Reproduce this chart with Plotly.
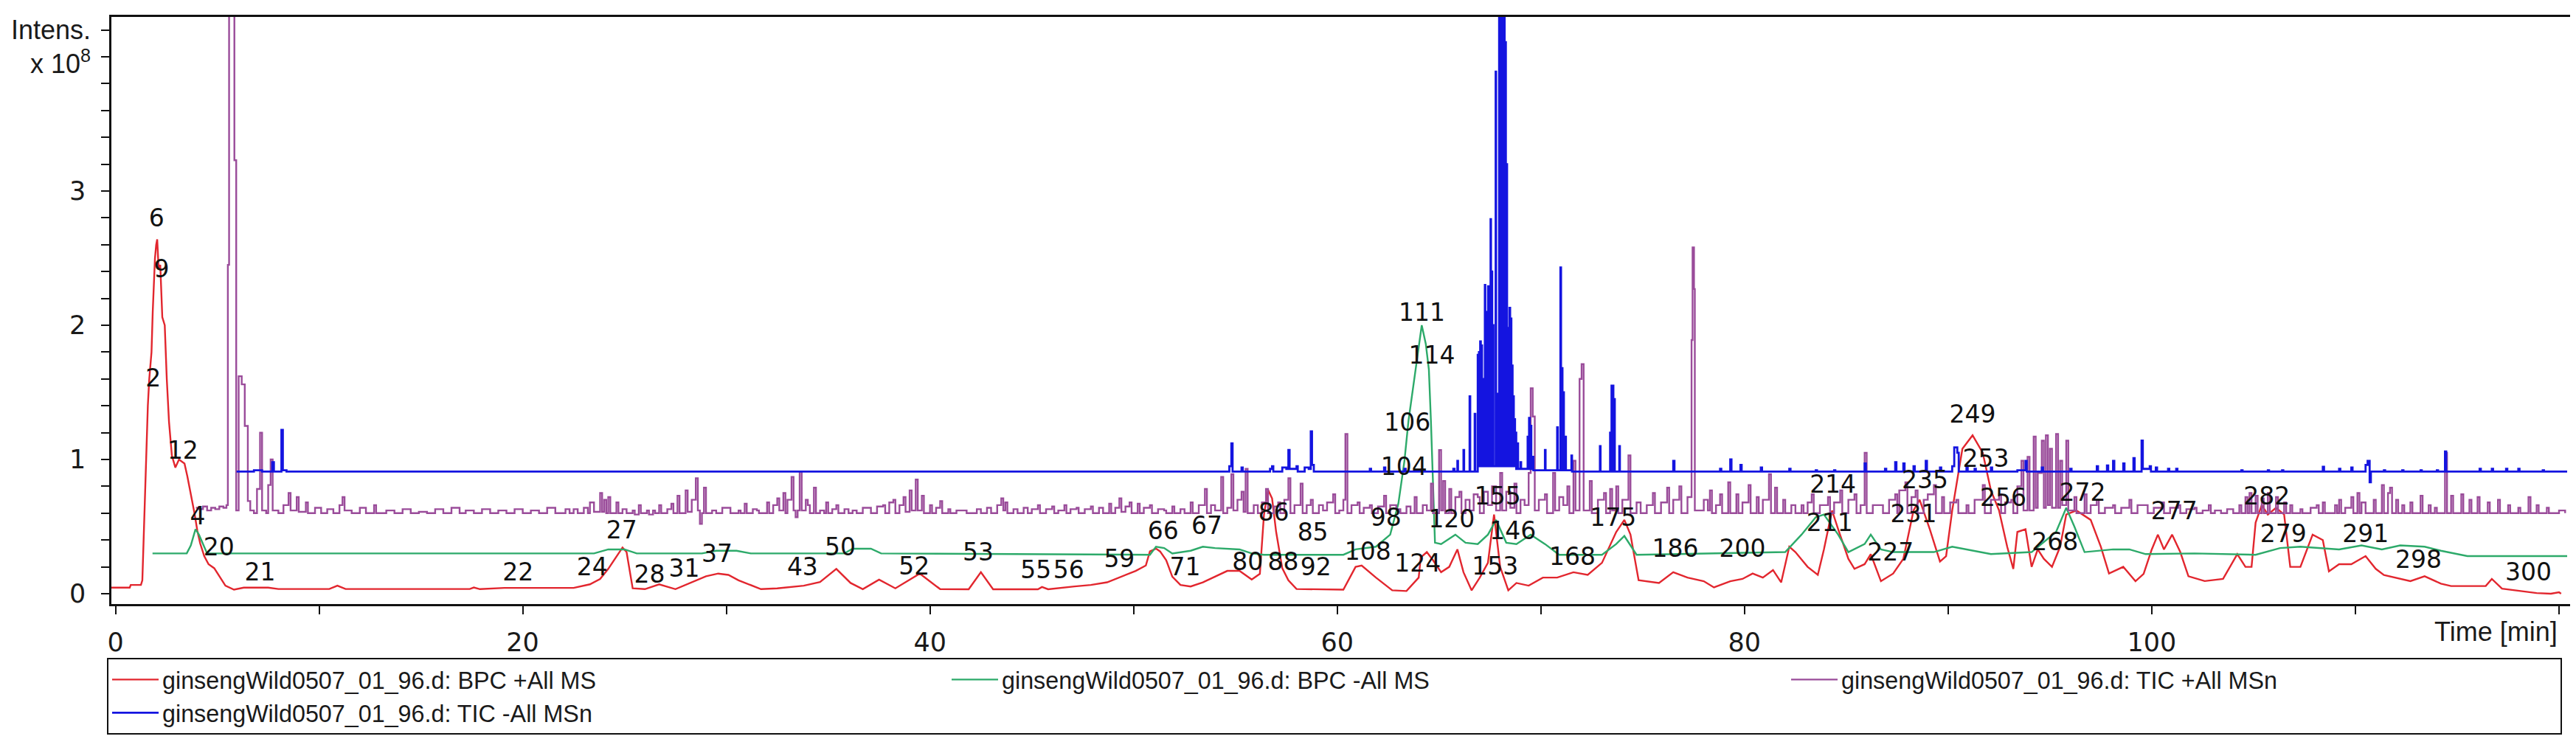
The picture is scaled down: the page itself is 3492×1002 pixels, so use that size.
import plotly.graph_objects as go

# ---------------- data (time [min], intensity [x1e8]) ----------------
BPC_POS = [(-0.2,.045),(0.7,.045),(0.75,.065),(1.25,.065),(1.32,.1),(1.41,.56),(1.52,1.0),(1.59,1.4),(1.66,1.6),
 (1.77,1.8),(1.83,2.1),(1.94,2.5),(2.0,2.6),(2.05,2.64),(2.12,2.42),(2.2,2.45),(2.3,2.06),(2.42,2.0),(2.52,1.6),
 (2.63,1.28),(2.77,1.03),(2.94,.94),(3.12,1.0),(3.39,.97),(3.53,.875),(3.74,.72),(3.88,.6),(4.02,.47),(4.16,.375),
 (4.36,.28),(4.57,.22),(4.85,.19),(5.12,.125),(5.4,.06),(5.82,.03),(6.3,.045),(7.5,.045),(8.0,.035),(10.5,.035),
 (10.9,.06),(11.3,.035),(17.4,.035),(17.6,.046),(17.9,.034),(19.1,.043),(22.5,.043),(23.3,.07),(23.8,.11),(24.2,.185),
 (24.9,.344),(25.1,.31),(25.4,.04),(26.0,.034),(26.7,.07),(27.5,.034),(28.3,.087),(29.0,.13),(29.6,.15),(30.1,.14),
 (30.6,.1),(31.7,.034),(32.5,.04),(33.8,.06),(34.6,.087),(35.4,.185),(36.1,.08),(36.7,.034),(37.5,.105),(38.3,.04),
 (39.5,.15),(40.5,.034),(41.9,.033),(42.5,.16),(43.1,.033),(45.3,.033),(45.5,.05),(45.8,.033),(47.1,.054),(47.9,.065),
 (48.7,.085),(49.4,.127),(50.1,.17),(50.6,.21),(50.8,.315),(51.1,.336),(51.3,.315),(51.6,.25),(51.9,.127),(52.3,.065),
 (52.8,.054),(53.4,.085),(54.0,.127),(54.6,.17),(55.2,.17),(55.8,.106),(56.2,.148),(56.4,.586),(56.6,.774),(56.8,.71),
 (57.0,.46),(57.3,.19),(57.6,.1),(58.0,.035),(60.3,.03),(60.9,.2),(61.2,.21),(61.9,.12),(62.7,.025),(63.4,.02),
 (64.0,.12),(64.1,.27),(64.4,.31),(64.7,.25),(65.1,.16),(65.5,.2),(65.9,.33),(66.2,.16),(66.6,.025),(67.0,.12),
 (67.4,.23),(67.7,.59),(68.0,.2),(68.4,.025),(68.8,.08),(69.4,.06),(70.1,.12),(70.8,.12),(71.6,.16),(72.3,.14),
 (73.0,.23),(73.7,.46),(74.1,.55),(74.4,.44),(74.8,.1),(75.8,.08),(76.5,.16),(77.2,.12),(78.0,.093),(78.5,.047),
 (79.3,.093),(79.9,.11),(80.4,.15),(80.9,.12),(81.4,.176),(81.8,.084),(82.2,.35),(82.5,.31),(83.1,.2),(83.6,.14),
 (83.9,.33),(84.3,.62),(84.6,.48),(85.1,.26),(85.4,.185),(85.9,.22),(86.2,.295),(86.7,.093),(87.3,.15),(87.8,.26),
 (88.3,.62),(88.6,.70),(89.1,.48),(89.6,.24),(89.9,.28),(90.2,.62),(90.7,1.08),(91.2,1.18),(91.7,1.05),(92.1,.77),
 (92.5,.62),(92.9,.35),(93.2,.185),(93.4,.46),(93.8,.48),(94.1,.2),(94.4,.33),(94.7,.26),(95.1,.2),(95.5,.35),
 (95.8,.59),(96.3,.62),(97.0,.55),(97.5,.35),(97.9,.15),(98.6,.2),(99.2,.093),(99.6,.148),(100.0,.33),(100.3,.44),
 (100.6,.33),(101.0,.44),(101.4,.31),(101.8,.13),(102.6,.094),(103.5,.11),(104.2,.295),(104.6,.2),(104.9,.2),
 (105.1,.53),(105.4,.66),(105.7,.59),(106.1,.64),(106.5,.59),(106.8,.2),(107.3,.2),(107.9,.44),(108.4,.4),
 (108.7,.166),(109.2,.22),(109.8,.22),(110.5,.28),(111.0,.185),(111.4,.139),(112.7,.094),(113.4,.13),(114.2,.075),
 (114.7,.057),(116.4,.057),(116.7,.11),(117.2,.038),(118.2,.02),(118.9,.005),(119.6,0.0),(120.0,.011),(120.1,0.0)]

BPC_NEG = [(1.82,.3),(3.5,.3),(3.7,.36),(3.93,.48),(4.1,.44),(4.5,.3),(23.5,.3),(24.2,.33),(25.0,.33),(25.6,.3),
 (28.8,.3),(29.5,.32),(30.5,.32),(31.2,.3),(35.8,.3),(36.2,.335),(37.1,.335),(37.6,.3),(50.8,.29),(51.1,.35),
 (51.5,.34),(51.9,.3),(52.8,.32),(53.4,.35),(54.0,.34),(55.2,.33),(55.8,.3),(56.4,.29),(60.3,.29),(60.9,.33),
 (61.9,.35),(62.6,.44),(63.0,.67),(63.3,.99),(63.5,1.29),(63.8,1.63),(64.0,1.84),(64.15,2.0),(64.35,1.86),
 (64.5,1.67),(64.6,1.29),(64.7,.82),(64.8,.38),(65.1,.37),(65.8,.44),(66.3,.38),(66.9,.37),(67.4,.44),(67.8,.55),
 (68.3,.38),(68.8,.37),(69.5,.44),(70.2,.37),(70.9,.29),(73.0,.29),(73.7,.37),(74.1,.43),(74.7,.29),(82.0,.31),
 (82.8,.44),(83.5,.57),(83.9,.59),(84.6,.44),(85.1,.31),(85.9,.37),(86.2,.44),(86.7,.33),(87.3,.31),(89.3,.31),
 (90.2,.35),(90.9,.33),(92.1,.295),(94.1,.31),(95.3,.46),(95.8,.64),(96.2,.5),(96.7,.31),(98.1,.33),(98.9,.33),
 (99.7,.295),(102.1,.3),(105.1,.29),(106.3,.34),(107.3,.35),(109.2,.33),(110.3,.36),(111.3,.33),(112.2,.36),
 (113.4,.35),(114.2,.32),(115.5,.28),(120.4,.28)]

TIC_POS = [(3.95,.64),(4.1,.63),(4.3,.65),(4.5,.62),(4.7,.64),(4.9,.63),(5.1,.65),(5.3,.64),(5.45,.66),(5.52,2.45),
 (5.58,5.0),(5.84,3.23),(5.93,.62),(6.05,1.62),(6.2,1.56),(6.35,1.25),(6.5,.69),(6.62,.62),(6.8,.6),(6.95,.78),
 (7.1,1.2),(7.2,.62),(7.4,.6),(7.5,.81),(7.62,1.0),(7.72,.62),(8.0,.6),(8.25,.66),(8.5,.75),(8.6,.62),(8.9,.72),
 (9.0,.61),(9.35,.68),(9.45,.6),(9.8,.64),(10.1,.6),(10.4,.63),(10.7,.6),(11.0,.66),(11.15,.72),(11.25,.62),(11.6,.6),
 (12.0,.64),(12.3,.6),(12.7,.66),(12.8,.6),(13.3,.62),(13.7,.6),(14.1,.63),(14.5,.6),(14.9,.61),(15.3,.6),(15.7,.63),
 (16.1,.6),(16.5,.64),(16.9,.6),(17.2,.62),(17.6,.6),(18.0,.63),(18.4,.6),(18.8,.62),(19.2,.6),(19.6,.63),(20.0,.6),
 (20.4,.62),(20.8,.6),(21.2,.64),(21.6,.6),(22.1,.63),(22.3,.6),(22.5,.63),(22.7,.6),(23.0,.64),(23.2,.6),(23.3,.68),
 (23.5,.61),(23.8,.75),(23.9,.61),(24.0,.70),(24.1,.6),(24.2,.72),(24.3,.6),(24.6,.68),(24.7,.6),(24.9,.63),(25.1,.6),
 (25.4,.62),(25.5,.59),(25.7,.66),(25.8,.6),(26.1,.62),(26.2,.59),(26.4,.62),(26.5,.6),(26.7,.66),(26.8,.6),(27.1,.63),
 (27.3,.67),(27.4,.6),(27.6,.73),(27.7,.6),(28.0,.77),(28.1,.61),(28.3,.7),(28.5,.86),(28.6,.62),(28.7,.52),(28.8,.6),
 (28.9,.79),(29.0,.6),(29.3,.62),(29.5,.6),(29.8,.64),(30.1,.64),(30.2,.6),(30.6,.62),(30.7,.6),(30.9,.67),(31.0,.6),
 (31.3,.63),(31.5,.62),(31.6,.6),(32.0,.68),(32.1,.6),(32.3,.66),(32.5,.71),(32.6,.62),(32.8,.75),(32.9,.6),(33.0,.7),
 (33.2,.87),(33.3,.62),(33.4,.57),(33.5,.62),(33.6,.91),(33.7,.62),(33.9,.7),(34.0,.66),(34.1,.6),(34.3,.79),(34.4,.6),
 (34.6,.62),(34.8,.6),(34.9,.68),(35.0,.6),(35.2,.63),(35.4,.66),(35.5,.6),(35.8,.63),(36.0,.6),(36.2,.62),(36.4,.6),
 (36.7,.64),(37.0,.64),(37.1,.6),(37.4,.65),(37.7,.66),(37.8,.6),(38.0,.68),(38.2,.7),(38.3,.6),(38.5,.66),(38.7,.72),
 (38.8,.61),(39.0,.77),(39.1,.62),(39.3,.85),(39.4,.62),(39.6,.73),(39.7,.6),(40.0,.66),(40.1,.6),(40.3,.64),(40.5,.69),
 (40.6,.6),(40.9,.63),(41.0,.6),(41.3,.62),(41.7,.62),(41.8,.6),(42.0,.6),(42.3,.63),(42.5,.6),(42.8,.64),(43.0,.6),
 (43.3,.66),(43.5,.71),(43.6,.62),(43.7,.68),(43.8,.6),(44.1,.63),(44.3,.6),(44.6,.64),(44.8,.6),(45.0,.63),(45.3,.66),
 (45.4,.6),(45.7,.63),(46.0,.65),(46.1,.6),(46.3,.62),(46.6,.66),(46.7,.6),(46.9,.63),(47.2,.64),(47.3,.6),(47.6,.63),
 (47.9,.65),(48.0,.6),(48.3,.64),(48.5,.6),(48.8,.67),(48.9,.6),(49.1,.64),(49.3,.71),(49.4,.61),(49.6,.65),(49.8,.68),
 (49.9,.6),(50.2,.67),(50.3,.6),(50.5,.64),(50.8,.66),(50.9,.6),(51.2,.63),(51.5,.62),(51.6,.6),(51.9,.65),(52.0,.6),
 (52.3,.63),(52.5,.6),(52.8,.68),(52.9,.6),(53.2,.66),(53.5,.78),(53.6,.6),(53.8,.66),(54.0,.62),(54.3,.87),(54.4,.6),
 (54.6,.64),(54.8,.89),(54.9,.62),(55.1,.7),(55.3,.76),(55.4,.61),(55.5,.93),(55.6,.6),(55.9,.66),(56.1,.6),(56.3,.68),
 (56.5,.78),(56.6,.6),(56.9,.65),(57.1,.68),(57.2,.6),(57.4,.7),(57.6,.86),(57.7,.6),(57.9,.66),(58.2,.82),(58.3,.6),
 (58.5,.66),(58.7,.7),(58.8,.6),(59.1,.66),(59.3,.62),(59.5,.68),(59.8,.74),(59.9,.6),(60.1,.62),(60.3,.7),(60.4,1.19),
 (60.5,.6),(60.7,.66),(61.0,.68),(61.1,.6),(61.3,.64),(61.6,.66),(61.7,.6),(62.0,.65),(62.3,.73),(62.4,.6),(62.6,.66),
 (62.9,.63),(63.1,.6),(63.4,.65),(63.6,.6),(63.8,.72),(63.9,.6),(64.2,.66),(64.4,.62),(64.6,.82),(64.7,.6),(65.0,1.07),
 (65.1,.62),(65.2,.84),(65.3,.6),(65.5,.78),(65.6,.6),(65.8,.72),(66.0,.76),(66.1,.6),(66.3,.7),(66.5,.62),(66.7,.74),
 (66.9,.72),(67.0,.6),(67.2,.76),(67.4,.66),(67.6,.8),(67.8,.62),(68.0,.9),(68.1,.62),(68.3,.76),(68.5,.64),(68.7,.82),
 (68.8,.6),(69.0,.7),(69.2,.66),(69.4,.9),(69.5,1.53),(69.6,1.32),(69.7,.62),(69.9,.7),(70.2,.74),(70.3,.6),(70.6,.9),
 (70.7,.62),(70.9,.72),(71.1,.66),(71.3,.8),(71.4,.6),(71.6,.99),(71.7,.62),(71.9,1.6),(72.0,1.71),(72.1,.62),(72.4,.84),
 (72.5,.6),(72.8,.7),(73.1,.75),(73.2,.6),(73.4,.78),(73.5,.62),(73.7,.8),(73.8,.6),(74.0,.7),(74.3,1.03),(74.4,.6),
 (74.7,.68),(74.9,.6),(75.2,.66),(75.5,.75),(75.6,.6),(75.9,.68),(76.2,.79),(76.3,.6),(76.5,.7),(76.8,.8),(76.9,.6),
 (77.2,.72),(77.4,1.89),(77.45,2.58),(77.52,2.27),(77.56,.62),(78.0,.7),(78.2,.62),(78.3,.77),(78.4,.6),(78.6,.66),
 (78.8,.74),(78.9,.6),(79.2,.83),(79.3,.6),(79.6,.74),(79.7,.6),(79.9,.68),(80.2,.81),(80.3,.6),(80.6,.72),(80.7,.6),
 (80.9,.7),(81.2,.89),(81.3,.6),(81.5,.79),(81.6,.6),(81.9,.7),(82.0,.6),(82.3,.66),(82.5,.6),(82.8,.66),(82.9,.6),
 (83.1,.68),(83.3,.74),(83.4,.6),(83.7,.66),(84.1,.72),(84.2,.6),(84.4,.68),(84.7,.77),(84.8,.6),(85.1,.7),(85.4,.74),
 (85.5,.6),(85.7,.66),(85.9,1.05),(86.0,.6),(86.3,.66),(86.7,.66),(86.8,.6),(87.1,.7),(87.4,.74),(87.5,.6),(87.6,.77),
 (87.9,.83),(88.0,.6),(88.2,.72),(88.4,.77),(88.5,.6),(88.8,.7),(89.0,.74),(89.3,.81),(89.4,.6),(89.7,.72),(89.8,.6),
 (90.1,.68),(90.4,.7),(90.5,.6),(90.9,.66),(91.0,.6),(91.3,.7),(91.7,.81),(91.8,.6),(92.1,.7),(92.5,.74),(92.6,.6),
 (92.8,.68),(93.1,.7),(93.2,.6),(93.4,.8),(93.6,.99),(93.7,.62),(93.9,1.02),(94.0,.62),(94.2,1.17),(94.3,.64),(94.4,.9),
 (94.6,1.14),(94.7,.64),(94.8,1.18),(94.9,.66),(95.0,1.08),(95.1,.64),(95.3,1.19),(95.4,.64),(95.5,.99),(95.6,.66),
 (95.8,1.14),(95.9,.62),(96.2,.72),(96.3,.6),(96.7,.74),(96.8,.6),(97.0,.66),(97.3,.7),(97.4,.6),(97.7,.64),(98.1,.66),
 (98.2,.6),(98.5,.64),(98.9,.7),(99.0,.6),(99.3,.66),(99.7,.66),(99.8,.6),(100.1,.64),(100.5,.68),(100.6,.6),(100.9,.64),
 (101.3,.66),(101.4,.6),(101.7,.63),(102.1,.64),(102.2,.6),(102.5,.62),(102.8,.66),(102.9,.6),(103.1,.62),(103.4,.6),
 (103.7,.63),(104.0,.6),(104.3,.66),(104.4,.6),(104.6,.72),(104.7,.6),(104.8,.75),(104.9,.6),(105.1,.73),(105.2,.6),
 (105.4,.71),(105.5,.6),(105.7,.75),(105.8,.6),(106.1,.72),(106.2,.6),(106.5,.68),(106.6,.6),(106.8,.66),(106.9,.6),
 (107.3,.63),(107.4,.6),(107.8,.64),(108.1,.66),(108.2,.6),(108.4,.68),(108.5,.6),(109.0,.66),(109.1,.6),(109.2,.7),
 (109.3,.6),(109.5,.64),(109.8,.72),(109.9,.6),(110.1,.75),(110.2,.6),(110.3,.68),(110.5,.6),(110.9,.7),(111.0,.6),
 (111.3,.81),(111.4,.6),(111.6,.75),(111.7,.79),(111.8,.6),(112.0,.7),(112.1,.6),(112.3,.66),(112.4,.6),(112.7,.68),
 (112.8,.6),(113.2,.73),(113.3,.6),(113.6,.66),(113.7,.6),(113.9,.64),(114.0,.6),(114.4,1.05),(114.5,.6),(114.7,.73),
 (114.8,.6),(115.2,.74),(115.3,.6),(115.6,.7),(115.7,.6),(116.0,.72),(116.1,.6),(116.5,.68),(116.6,.6),(117.0,.7),
 (117.1,.6),(117.5,.66),(117.6,.6),(118.0,.64),(118.1,.6),(118.5,.72),(118.6,.6),(118.9,.66),(119.0,.6),(119.4,.64),
 (119.5,.6),(120.0,.62),(120.3,.6)]

TIC_NEG = [(5.95,.91),(6.3,.91),(6.8,.92),(7.2,.91),(7.7,.98),(7.78,.91),(8.15,1.22),(8.22,.92),(8.4,.91),(30.0,.91),
 (54.5,.91),(54.7,.95),(54.8,1.12),(54.86,.91),(55.3,.94),(55.36,.91),(56.7,.93),(56.8,.95),(56.86,.91),(57.3,.94),
 (57.5,.93),(57.6,1.07),(57.66,.93),(58.0,.95),(58.06,.91),(58.4,.94),(58.6,.93),(58.7,1.21),(58.76,.96),(58.85,.91),
 (60.9,.91),(61.6,.93),(61.66,.91),(62.3,.94),(62.36,.91),(63.3,.93),(63.36,.91),(65.5,.91),(65.7,.93),(65.76,.91),
 (65.9,.99),(65.93,.91),(66.2,1.07),(66.23,.91),(66.5,1.47),(66.53,.91),(66.75,1.34),(66.78,.91),
 (66.90,1.78),(66.93,.95),(66.96,1.8),(66.99,.95),(67.02,1.88),(67.05,.95),(67.08,1.85),(67.11,.95),(67.14,1.6),
 (67.17,.95),(67.25,2.30),(67.27,.95),(67.35,2.1),(67.38,.95),(67.41,2.29),(67.44,.95),(67.47,2.25),(67.50,.95),
 (67.53,2.79),(67.55,.95),(67.58,2.4),(67.61,.95),(67.64,2.0),(67.67,.95),(67.78,3.89),(67.80,.95),(67.86,1.49),
 (67.89,.95),(67.95,4.6),(67.98,.95),(68.01,4.6),(68.04,.95),(68.07,4.6),(68.10,.95),(68.13,4.6),(68.16,.95),
 (68.19,4.6),(68.22,.95),(68.25,4.11),(68.28,.95),(68.31,3.2),(68.34,.95),(68.40,1.98),(68.43,.95),(68.46,2.13),
 (68.49,.95),(68.52,2.05),(68.55,.95),(68.58,1.7),(68.61,.95),(68.64,1.47),(68.67,.95),(68.70,1.3),(68.73,.95),
 (68.76,1.2),(68.79,.93),(68.85,1.12),(68.88,.93),(69.0,.98),(69.03,.93),(69.35,1.17),(69.38,.93),(69.42,1.31),
 (69.45,.93),(69.5,1.25),(69.53,.93),(69.6,1.02),(69.63,.92),(70.2,1.07),(70.23,.92),(70.8,1.24),(70.83,.92),
 (70.96,2.43),(70.99,.92),(71.03,1.68),(71.06,.92),(71.1,1.5),(71.13,.92),(71.2,1.17),(71.23,.92),(71.5,1.03),
 (71.53,.91),(72.9,1.1),(72.93,.91),(73.4,1.2),(73.43,.91),(73.47,1.55),(73.5,.91),(73.53,1.55),(73.56,.91),
 (73.6,1.45),(73.63,.91),(73.85,1.1),(73.88,.91),(76.4,.91),(76.5,.99),(76.56,.91),(78.8,.93),(78.86,.91),
 (79.3,1.0),(79.36,.91),(79.8,.96),(79.86,.91),(80.8,.94),(80.86,.91),(82.2,.93),(82.26,.91),(83.5,.92),(83.56,.91),
 (84.4,.92),(84.46,.91),(85.9,.97),(85.96,.91),(86.9,.93),(86.96,.91),(87.4,.98),(87.46,.91),(87.8,.97),(87.86,.91),
 (88.3,.95),(88.36,.91),(88.9,.99),(88.96,.91),(89.6,.94),(89.66,.91),(90.2,.95),(90.3,1.09),(90.45,1.05),(90.52,.91),
 (90.9,.94),(90.96,.91),(91.3,.93),(91.36,.91),(92.1,.94),(92.16,.91),(93.4,.92),(93.8,.99),(93.86,.91),(94.6,.94),
 (94.66,.91),(96.0,.93),(96.06,.91),(97.3,.95),(97.36,.91),(97.8,.955),(97.86,.91),(98.1,.99),(98.16,.91),(98.6,.97),
 (98.66,.91),(99.1,1.01),(99.16,.91),(99.5,1.14),(99.56,.93),(99.9,.95),(99.96,.91),(100.2,.94),(100.26,.91),
 (100.8,.93),(100.86,.91),(101.2,.93),(101.26,.91),(104.4,.92),(104.46,.91),(105.7,.92),(105.76,.91),(106.4,.92),
 (106.46,.91),(108.4,.945),(108.46,.91),(109.2,.93),(109.26,.91),(109.8,.94),(109.86,.91),(110.5,.96),(110.6,.99),
 (110.7,.83),(110.76,.91),(111.4,.92),(111.46,.91),(112.3,.92),(112.36,.91),(113.2,.92),(113.26,.91),(114.0,.92),
 (114.06,.91),(114.4,1.06),(114.46,.91),(116.1,.93),(116.16,.91),(116.7,.93),(116.76,.91),(117.4,.93),(117.46,.91),
 (118.0,.93),(118.06,.91),(119.2,.92),(119.26,.91),(120.4,.91)]

PEAK_IDS = ['6','9','2','12','4','20','21','22','24','27','28','31','37','43','50','52','53','55','56','59','66','67',
 '71','80','86','88','85','92','98','104','106','111','114','108','120','124','155','146','153','168','175','186',
 '200','211','214','227','231','235','249','253','256','268','272','277','282','279','291','298','300']
PEAK_TIMES = [2.02,2.26,1.86,3.31,4.04,5.08,7.1,19.77,23.41,24.86,26.23,27.93,29.54,33.74,35.59,39.22,42.37,45.2,
 46.81,49.3,51.45,53.6,52.53,55.6,56.88,57.35,58.8,58.95,62.39,63.28,63.44,64.16,64.65,61.5,65.62,63.95,67.88,
 68.62,67.75,71.55,73.55,76.6,79.9,84.18,84.34,87.17,88.3,88.86,91.2,91.85,92.7,95.25,96.6,101.1,105.65,106.46,
 110.5,113.1,118.5]
PEAK_LEVELS = [2.78,2.40,1.59,1.05,.56,.33,.145,.145,.18,.46,.13,.17,.28,.18,.33,.19,.29,.16,.16,.245,.45,.49,.18,
 .22,.59,.22,.44,.18,.55,.93,1.26,2.08,1.76,.3,.54,.21,.71,.45,.19,.26,.55,.32,.32,.51,.8,.29,.58,.83,1.32,.99,
 .7,.37,.74,.6,.71,.43,.43,.24,.145]

X_TICKS = [0, 10, 20, 30, 40, 50, 60, 70, 80, 90, 100, 110, 120]
X_LABELS = ['0', '', '20', '', '40', '', '60', '', '80', '', '100', '', '']
Y_TICKS = [round(0.2 * i, 1) for i in range(22)]
Y_LABELS = {0.0: '0', 1.0: '1', 2.0: '2', 3.0: '3'}

SERIES = [
    ('ginsengWild0507_01_96.d: BPC +All MS', BPC_POS, '#E2262E', 'linear', 2.4),
    ('ginsengWild0507_01_96.d: BPC -All MS', BPC_NEG, '#2DAA6A', 'linear', 2.4),
    ('ginsengWild0507_01_96.d: TIC +All MSn', TIC_POS, '#9A4C9A', 'hv', 2.4),
    ('ginsengWild0507_01_96.d: TIC -All MSn', TIC_NEG, '#1414E0', 'hv', 2.8),
]

FONT = 'Liberation Sans, Arial, sans-serif'
WIDE = 'DejaVu Sans, Verdana, sans-serif'

fig = go.Figure()
for name, pts, color, shape, lw in SERIES:
    fig.add_trace(go.Scatter(
        x=[p[0] for p in pts], y=[p[1] for p in pts], mode='lines', name=name,
        line=dict(color=color, width=lw, shape=shape),
        legendwidth=970 if 'TIC +' in name else 1060,
    ))

fig.add_trace(go.Scatter(
    x=PEAK_TIMES, y=PEAK_LEVELS, mode='text', text=PEAK_IDS, showlegend=False,
    textposition='middle center', textfont=dict(family=WIDE, size=33, color='#111111'),
    hoverinfo='skip',
))

axis_common = dict(showline=True, linecolor='#111111', linewidth=2.5, mirror=True, ticks='outside',
                   ticklen=11, tickwidth=2, tickcolor='#111111', showgrid=False, zeroline=False,
                   tickfont=dict(family=WIDE, size=35, color='#1a1a1a'))

fig.update_layout(
    width=3492, height=1002,
    margin=dict(l=143, r=15, t=15, b=191),
    paper_bgcolor='white', plot_bgcolor='white',
    xaxis=dict(range=[-0.2, 120.58], tickmode='array', tickvals=X_TICKS, ticktext=X_LABELS,
               ticklabelstandoff=8, **axis_common),
    yaxis=dict(range=[-0.077, 4.297], tickmode='array', tickvals=Y_TICKS,
               ticktext=[Y_LABELS.get(v, '') for v in Y_TICKS], ticklabelstandoff=14, **axis_common),
    legend=dict(orientation='h', x=-0.0018, xanchor='left', y=-0.0916, yanchor='top',
                bordercolor='#111111', borderwidth=2, bgcolor='white', itemwidth=63,
                entrywidthmode='pixels', font=dict(family=FONT, size=32.3, color='#1a1a1a'),
                traceorder='normal'),
    annotations=[
        dict(text='Intens.', xref='paper', yref='y', x=-0.0078, y=4.2, xanchor='right', yanchor='middle',
             showarrow=False, font=dict(family=FONT, size=36, color='#1a1a1a')),
        dict(text='x 10<sup>8</sup>', xref='paper', yref='y', x=-0.0078, y=3.96, xanchor='right',
             yanchor='middle', showarrow=False, font=dict(family=FONT, size=36, color='#1a1a1a')),
        dict(text='Time [min]', xref='x', yref='paper', x=120, y=-0.0477, xanchor='right', yanchor='middle',
             showarrow=False, font=dict(family=FONT, size=36, color='#1a1a1a')),
    ],
)

fig.write_html("out.html")
